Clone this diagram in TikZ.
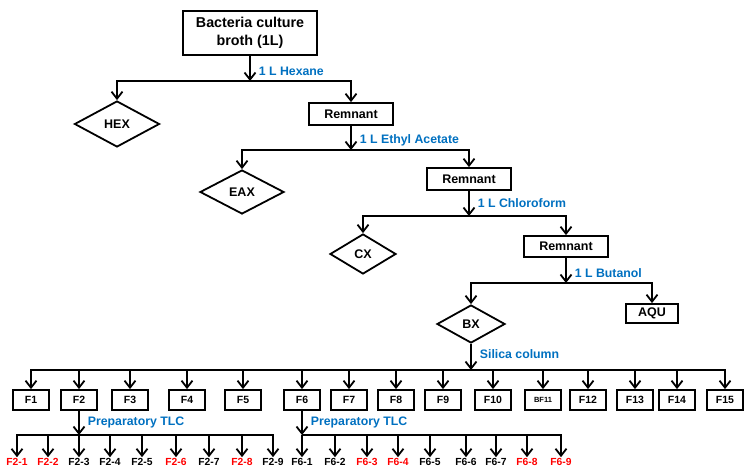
\documentclass[tikz,border=0pt]{standalone}
\usepackage{fontspec}
\setmainfont{Liberation Sans}
\usetikzlibrary{positioning, shapes.geometric, arrows.meta, calc}
\definecolor{solvblue}{RGB}{0,112,192}
\definecolor{fracred}{RGB}{255,0,0}

\begin{document}
\begin{tikzpicture}[x=1pt, y=-1pt,
    arr/.style={line width=1.8pt, -{Straight Barb[length=7pt,width=11pt]}},
    box/.style={draw, line width=1.8pt, inner sep=0pt, align=center,
      font=\bfseries\fontsize{12.5}{14}\selectfont},
    ext/.style={draw, diamond, line width=1.8pt, inner sep=0pt,
      font=\bfseries\fontsize{12.5}{14}\selectfont},
    fbox/.style={draw, line width=1.8pt, minimum width=36pt, minimum height=20pt,
      inner sep=0pt, font=\bfseries\fontsize{10.5}{12}\selectfont},
    lab/.style={text=solvblue, inner sep=0pt, font=\bfseries\fontsize{12.3}{14}\selectfont},
    sub/.style={inner sep=1pt, font=\bfseries\fontsize{10.3}{12}\selectfont},
    hit/.style={sub, text=fracred}]
    \useasboundingbox (0,0) rectangle (752,476);

    % broth and solvent steps
    \node[box, minimum width=134pt, minimum height=44pt, font=\bfseries\fontsize{14.3}{18}\selectfont]
      (broth) at (250,33) {Bacteria culture\\broth (1L)};
    \node[ext, minimum width=85pt, minimum height=46pt] (hex) at (117,124) {HEX};
    \node[box, minimum width=84pt, minimum height=22pt] (rem1) at (351,114) {Remnant};
    \node[ext, minimum width=84pt, minimum height=44pt] (eax) at (242,192) {EAX};
    \node[box, minimum width=84pt, minimum height=22pt] (rem2) at (469,179) {Remnant};
    \node[ext, minimum width=66pt, minimum height=40pt] (cx) at (363,254) {CX};
    \node[box, minimum width=84pt, minimum height=21pt] (rem3) at (566,246.5) {Remnant};
    \node[ext, minimum width=68pt, minimum height=38pt] (bx) at (471,324) {BX};
    \node[box, minimum width=52pt, minimum height=19pt] (aqu) at (652,313.5) {AQU};

    \coordinate (j1) at (250,81);
    \coordinate (j2) at (351,150);
    \coordinate (j3) at (469,216);
    \coordinate (j4) at (566,283);
    \coordinate (j5) at (471,370);

    \draw[arr] (broth) -- (j1) node[lab, pos=0.62, right=8pt] {1 L Hexane};
    \draw[arr] (j1) -| (hex.north);
    \draw[arr] (j1) -| (rem1.north);

    \draw[arr] (rem1) -- (j2) node[lab, pos=0.6, right=8pt] {1 L Ethyl Acetate};
    \draw[arr] (j2) -| (eax.north);
    \draw[arr] (j2) -| (rem2.north);

    \draw[arr] (rem2) -- (j3) node[lab, pos=0.5, right=8pt] {1 L Chloroform};
    \draw[arr] (j3) -| (cx.north);
    \draw[arr] (j3) -| (rem3.north);

    \draw[arr] (rem3) -- (j4) node[lab, pos=0.62, right=8pt] {1 L Butanol};
    \draw[arr] (j4) -| (bx.north);
    \draw[arr] (j4) -| (aqu.north);

    % silica column fractions
    \draw[arr] (bx.south) -- (j5) node[lab, pos=0.4, right=8pt] {Silica column};
    \foreach \x/\t [count=\i] in {31/F1, 79/F2, 130/F3, 187/F4, 243/F5, 302/F6, 349/F7,
        396/F8, 443/F9, 493/F10, 543/{\fontsize{7.5}{9}\selectfont BF11}, 588/F12,
        635/F13, 677/F14, 725/F15} {
      \node[fbox] (f\i) at (\x,400) {\t};
      \draw[arr] (j5) -| (f\i.north);
    }

    % preparatory TLC of F2 and F6
    \coordinate (j6) at (79,435);
    \coordinate (j7) at (302,435);
    \draw[arr] (f2) -- (j6) node[lab, pos=0.48, right=8pt] {Preparatory TLC};
    \draw[arr] (f6) -- (j7) node[lab, pos=0.48, right=8pt] {Preparatory TLC};

    \foreach \x/\t/\s [count=\i] in {17/F2-1/hit, 48/F2-2/hit, 79/F2-3/sub, 110/F2-4/sub,
        142/F2-5/sub, 176/F2-6/hit, 209/F2-7/sub, 242/F2-8/hit, 273/F2-9/sub} {
      \node[\s] (a\i) at (\x,462) {\t};
      \draw[arr] (j6) -| (a\i.north);
    }
    \foreach \x/\t/\s [count=\i] in {302/F6-1/sub, 335/F6-2/sub, 367/F6-3/hit, 398/F6-4/hit,
        430/F6-5/sub, 466/F6-6/sub, 496/F6-7/sub, 527/F6-8/hit, 561/F6-9/hit} {
      \node[\s] (b\i) at (\x,462) {\t};
      \draw[arr] (j7) -| (b\i.north);
    }
\end{tikzpicture}
\end{document}
